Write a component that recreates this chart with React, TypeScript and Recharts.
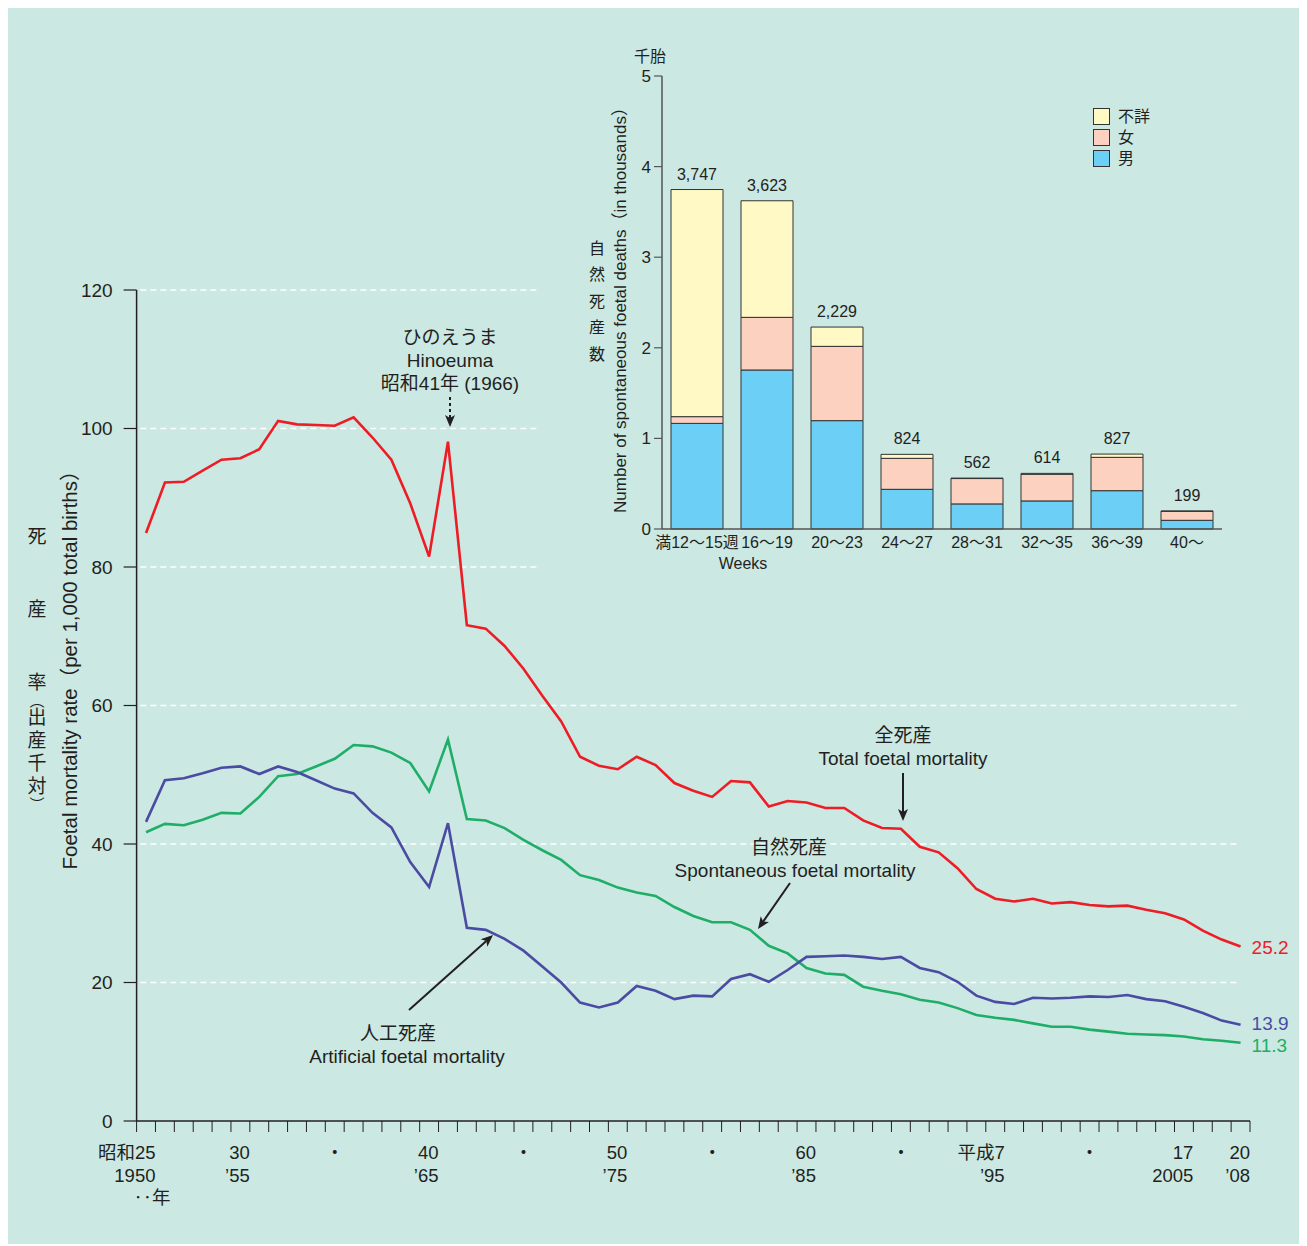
import React from "react";
import { LineChart, Line, XAxis, YAxis, ReferenceLine, BarChart, Bar, LabelList, Legend } from "recharts";

const FONT = "'Liberation Sans', Arial, 'Noto Sans CJK JP', sans-serif";
const INK = "#231f20";
const BG = "#cbe8e3";
const RED = "#ee1c25";
const BLUE = "#4b4ba3";
const GREEN = "#1fae67";

// ---- main line chart data (rate per 1,000 total births) ----
const YEARS = [
  1950, 1951, 1952, 1953, 1954, 1955, 1956, 1957, 1958, 1959,
  1960, 1961, 1962, 1963, 1964, 1965, 1966, 1967, 1968, 1969,
  1970, 1971, 1972, 1973, 1974, 1975, 1976, 1977, 1978, 1979,
  1980, 1981, 1982, 1983, 1984, 1985, 1986, 1987, 1988, 1989,
  1990, 1991, 1992, 1993, 1994, 1995, 1996, 1997, 1998, 1999,
  2000, 2001, 2002, 2003, 2004, 2005, 2006, 2007, 2008,
];
const TOTAL = [
  84.9, 92.2, 92.3, 93.9, 95.5, 95.7, 97.0, 101.1, 100.6, 100.5,
  100.4, 101.6, 98.7, 95.5, 89.2, 81.5, 98.1, 71.6, 71.1, 68.6,
  65.3, 61.4, 57.7, 52.6, 51.3, 50.8, 52.6, 51.4, 48.8, 47.7,
  46.8, 49.1, 48.9, 45.4, 46.2, 46.0, 45.2, 45.2, 43.4, 42.3,
  42.2, 39.6, 38.8, 36.5, 33.5, 32.1, 31.7, 32.1, 31.4, 31.6,
  31.2, 31.0, 31.1, 30.5, 30.0, 29.1, 27.5, 26.2, 25.2,
];
const SPONT = [
  41.7, 42.9, 42.7, 43.5, 44.5, 44.4, 46.8, 49.8, 50.1, 51.2,
  52.3, 54.3, 54.1, 53.2, 51.7, 47.6, 55.1, 43.6, 43.4, 42.3,
  40.6, 39.1, 37.7, 35.5, 34.8, 33.7, 33.0, 32.5, 30.9, 29.6,
  28.7, 28.7, 27.6, 25.3, 24.2, 22.1, 21.3, 21.1, 19.4, 18.8,
  18.3, 17.5, 17.1, 16.3, 15.3, 14.9, 14.6, 14.1, 13.6, 13.6,
  13.2, 12.9, 12.6, 12.5, 12.4, 12.2, 11.8, 11.6, 11.3,
];
const ARTIF = [
  43.2, 49.2, 49.5, 50.2, 51.0, 51.2, 50.1, 51.2, 50.4, 49.2,
  48.0, 47.3, 44.5, 42.4, 37.4, 33.8, 43.0, 27.9, 27.6, 26.3,
  24.6, 22.3, 20.0, 17.1, 16.4, 17.1, 19.5, 18.8, 17.6, 18.1,
  18.0, 20.5, 21.2, 20.1, 21.8, 23.7, 23.8, 23.9, 23.7, 23.4,
  23.7, 22.1, 21.5, 20.1, 18.1, 17.2, 16.9, 17.8, 17.7, 17.8,
  18.0, 17.9, 18.2, 17.6, 17.3, 16.5, 15.6, 14.5, 13.9,
];

const X_LABEL_YEARS = [1950, 1955, 1960, 1965, 1970, 1975, 1980, 1985, 1990, 1995, 2000, 2005, 2008];
const X_LABEL_ERA = ["昭和25", "30", "・", "40", "・", "50", "・", "60", "・", "平成7", "・", "17", "20"];
const X_LABEL_AD = ["1950", "’55", "", "’65", "", "’75", "", "’85", "", "’95", "", "2005", "’08"];
const Y_TICKS = [0, 20, 40, 60, 80, 100, 120];
const GRID_SHORT = [80, 100, 120];
const GRID_LONG = [20, 40, 60];

// ---- inset bar chart data (spontaneous foetal deaths by gestation week) ----
const WEEK_CATS = ["満12〜15週", "16〜19", "20〜23", "24〜27", "28〜31", "32〜35", "36〜39", "40〜"];
const MALE = [1166, 1755, 1196, 438, 277, 310, 423, 96];
const FEMALE = [74, 581, 820, 342, 280, 294, 368, 99];
const UNKNOWN = [2507, 1287, 213, 44, 5, 10, 36, 4];
const TOTALS = [3747, 3623, 2229, 824, 562, 614, 827, 199];
const BAR_TICKS = [0, 1000, 2000, 3000, 4000, 5000];

const SERIES_BAR = [
  { key: "unknown", name: "不詳", color: "#fff9c6" },
  { key: "female", name: "女", color: "#fcd1bf" },
  { key: "male", name: "男", color: "#6ccff5" },
];

// ---- layout ----
const W = 1291;
const H = 1240;
const PLOT_L = 128.6;
const PLOT_R = 1242;
const PLOT_T = 286;
const PLOT_B = 1117;
const XAXIS_H = 90;
const YAXIS_W = 70;
const BAND = (PLOT_R - PLOT_L) / YEARS.length;

const mainData = YEARS.map((year, i) => ({ year, total: TOTAL[i], spont: SPONT[i], artif: ARTIF[i] }));
const BOUNDS = [...YEARS.map((y) => y - 0.5), YEARS[YEARS.length - 1] + 0.5];

const barData = WEEK_CATS.map((cat, i) => ({
  cat,
  male: MALE[i],
  female: FEMALE[i],
  unknown: UNKNOWN[i],
  total: TOTALS[i],
}));

const XTick = (props: any) => {
  const { x, y, payload } = props;
  const year = payload.value - 0.5;
  const i = X_LABEL_YEARS.indexOf(year);
  if (i < 0) return <g />;
  const era = X_LABEL_ERA[i];
  const ad = X_LABEL_AD[i];
  const st = { fontSize: 18.5, fill: INK, fontFamily: FONT };
  if (era === "・") {
    return (
      <text x={x - BAND / 2} y={y + 23} textAnchor="middle" {...st}>
        ・
      </text>
    );
  }
  return (
    <g>
      <text x={x} y={y + 22.5} textAnchor="end" {...st}>{era}</text>
      <text x={x} y={y + 45.5} textAnchor="end" {...st}>{ad}</text>
      {i === 0 && (
        <text x={x - 22} y={y + 67.5} textAnchor="start" {...st}>‥年</text>
      )}
    </g>
  );
};

const endLabel = (color: string, shift: number) => (props: any) => {
  const { x, y, index, value } = props;
  if (index !== YEARS.length - 1) return <g />;
  return (
    <text x={x + 11} y={y + shift} dy={6.5} fill={color} fontSize={19} fontFamily={FONT}>
      {Number(value).toFixed(1)}
    </text>
  );
};

const Arrow = ({ x1, y1, x2, y2, dashed }: { x1: number; y1: number; x2: number; y2: number; dashed?: boolean }) => {
  const dx = x2 - x1;
  const dy = y2 - y1;
  const len = Math.hypot(dx, dy);
  const ux = dx / len;
  const uy = dy / len;
  const hl = 12;
  const hw = 5;
  const bx = x2 - ux * hl;
  const by = y2 - uy * hl;
  const pts = `${x2},${y2} ${bx - uy * hw},${by + ux * hw} ${bx + ux * 3},${by + uy * 3} ${bx + uy * hw},${by - ux * hw}`;
  return (
    <g>
      <line x1={x1} y1={y1} x2={bx + ux * 3} y2={by + uy * 3} stroke={INK} strokeWidth={2} strokeDasharray={dashed ? "3 3" : undefined} />
      <polygon points={pts} fill={INK} />
    </g>
  );
};

const T = ({ x, y, children, size = 19, anchor = "middle", color = INK, rotate }: any) => (
  <text
    x={x}
    y={y}
    fontSize={size}
    fill={color}
    fontFamily={FONT}
    textAnchor={anchor}
    dominantBaseline="central"
    transform={rotate ? `rotate(${rotate} ${x} ${y})` : undefined}
  >
    {children}
  </text>
);

const LegendContent = () => (
  <div style={{ fontFamily: FONT, fontSize: 16, color: INK, lineHeight: "21px" }}>
    {SERIES_BAR.map((s) => (
      <div key={s.key} style={{ display: "flex", alignItems: "center", height: 21 }}>
        <span
          style={{
            display: "inline-block",
            width: 15,
            height: 15,
            background: s.color,
            border: "1px solid #333",
            marginRight: 8,
          }}
        />
        <span>{s.name}</span>
      </div>
    ))}
  </div>
);

const LEFT_CHARS = [
  { c: "死", y: 532, s: 19 },
  { c: "産", y: 605, s: 19 },
  { c: "率", y: 678, s: 19 },
  { c: "︵", y: 696, s: 15 },
  { c: "出", y: 713, s: 19 },
  { c: "産", y: 736, s: 19 },
  { c: "千", y: 759, s: 19 },
  { c: "対", y: 782, s: 19 },
  { c: "︶", y: 800, s: 15 },
];
const BAR_LEFT_CHARS = ["自", "然", "死", "産", "数"];

export default function App() {
  return (
    <div style={{ position: "relative", width: W, height: H, background: BG, marginTop: -4, fontFamily: FONT }}>
      <div style={{ position: "absolute", left: 0, top: 0 }}>
        <LineChart
          width={W}
          height={H}
          data={mainData}
          margin={{ top: PLOT_T, right: W - PLOT_R, bottom: H - PLOT_B - XAXIS_H, left: PLOT_L - YAXIS_W }}
        >
          <XAxis
            type="number"
            dataKey="year"
            domain={[BOUNDS[0], BOUNDS[BOUNDS.length - 1]]}
            ticks={BOUNDS}
            interval={0}
            allowDataOverflow
            height={XAXIS_H}
            tickSize={11}
            tickMargin={4}
            axisLine={{ stroke: INK, strokeWidth: 1.5 }}
            tickLine={{ stroke: INK, strokeWidth: 1 }}
            tick={<XTick />}
          />
          <YAxis
            type="number"
            domain={[0, 120]}
            ticks={Y_TICKS}
            interval={0}
            width={YAXIS_W}
            tickSize={13}
            tickMargin={11}
            axisLine={{ stroke: INK, strokeWidth: 1.5 }}
            tickLine={{ stroke: INK, strokeWidth: 1.2 }}
            tick={{ fontSize: 19, fill: INK, fontFamily: FONT }}
          />
          {GRID_SHORT.map((v) => (
            <ReferenceLine
              key={"gs" + v}
              segment={[{ x: 1949.7, y: v }, { x: 1970.9, y: v }]}
              stroke="#ffffff"
              strokeWidth={1.5}
              strokeDasharray="6 4"
            />
          ))}
          {GRID_LONG.map((v) => (
            <ReferenceLine
              key={"gl" + v}
              segment={[{ x: 1949.7, y: v }, { x: 2007.8, y: v }]}
              stroke="#ffffff"
              strokeWidth={1.5}
              strokeDasharray="6 4"
            />
          ))}
          <Line
            type="linear"
            dataKey="total"
            stroke={RED}
            strokeWidth={2.6}
            dot={false}
            isAnimationActive={false}
            label={endLabel(RED, 1)}
          />
          <Line
            type="linear"
            dataKey="spont"
            stroke={GREEN}
            strokeWidth={2.6}
            dot={false}
            isAnimationActive={false}
            label={endLabel(GREEN, 3)}
          />
          <Line
            type="linear"
            dataKey="artif"
            stroke={BLUE}
            strokeWidth={2.6}
            dot={false}
            isAnimationActive={false}
            label={endLabel(BLUE, -1)}
          />
        </LineChart>
      </div>

      <div style={{ position: "absolute", left: 540, top: 40 }}>
        <BarChart
          width={700}
          height={560}
          data={barData}
          margin={{ top: 32, right: 26, bottom: 25, left: 64 }}
          barSize={52}
        >
          <XAxis
            dataKey="cat"
            interval={0}
            height={50}
            tickLine={false}
            tickSize={0}
            tickMargin={8}
            axisLine={{ stroke: "#555", strokeWidth: 1.5 }}
            tick={{ fontSize: 16, fill: INK, fontFamily: FONT }}
          />
          <YAxis
            type="number"
            domain={[0, 5000]}
            ticks={BAR_TICKS}
            interval={0}
            width={50}
            tickSize={8}
            tickMargin={3}
            tickFormatter={(v: number) => String(v / 1000)}
            axisLine={{ stroke: "#555", strokeWidth: 1.5 }}
            tickLine={{ stroke: "#555", strokeWidth: 1.2 }}
            tick={{ fontSize: 17, fill: INK, fontFamily: FONT }}
          />
          <Bar dataKey="male" stackId="s" fill="#6ccff5" stroke="#333" strokeWidth={1} isAnimationActive={false} />
          <Bar dataKey="female" stackId="s" fill="#fcd1bf" stroke="#333" strokeWidth={1} isAnimationActive={false} />
          <Bar dataKey="unknown" stackId="s" fill="#fff9c6" stroke="#333" strokeWidth={1} isAnimationActive={false}>
            <LabelList
              dataKey="total"
              position="top"
              offset={10}
              formatter={(v: any) => Number(v).toLocaleString("en-US")}
              style={{ fontSize: 16, fill: INK, fontFamily: FONT }}
            />
          </Bar>
          <Legend
            layout="horizontal"
            verticalAlign="middle"
            align="center"
            content={<LegendContent />}
            wrapperStyle={{ left: 545, top: 62, width: 120 }}
          />
        </BarChart>
      </div>

      <svg
        width={W}
        height={H}
        style={{ position: "absolute", left: 0, top: 0, pointerEvents: "none" }}
      >
        {/* main y-axis titles */}
        {LEFT_CHARS.map((d, i) => (
          <T key={i} x={29} y={d.y} size={d.s}>{d.c}</T>
        ))}
        <T x={61} y={661} size={20.5} rotate={-90}>Foetal mortality rate（per 1,000 total births）</T>

        {/* Hinoeuma */}
        <T x={442} y={333} size={19}>ひのえうま</T>
        <T x={442} y={356} size={19}>Hinoeuma</T>
        <T x={442} y={379} size={19}>昭和41年 (1966)</T>
        <Arrow x1={442} y1={393} x2={442} y2={423} dashed />

        {/* Total */}
        <T x={895} y={731} size={19}>全死産</T>
        <T x={895} y={754} size={19}>Total foetal mortality</T>
        <Arrow x1={895} y1={769} x2={895} y2={817} />

        {/* Spontaneous */}
        <T x={781} y={843} size={19}>自然死産</T>
        <T x={787} y={866} size={19}>Spontaneous foetal mortality</T>
        <Arrow x1={782} y1={879} x2={750} y2={925} />

        {/* Artificial */}
        <T x={390} y={1029} size={19}>人工死産</T>
        <T x={399} y={1052} size={19}>Artificial foetal mortality</T>
        <Arrow x1={401} y1={1006} x2={485} y2={931} />

        {/* inset labels */}
        <T x={642} y={52} size={16}>千胎</T>
        {BAR_LEFT_CHARS.map((c, i) => (
          <T key={c + i} x={589} y={244 + i * 26.5} size={16}>{c}</T>
        ))}
        <T x={612} y={302} size={17} rotate={-90}>Number of spontaneous foetal deaths（in thousands）</T>
        <T x={735} y={559} size={16}>Weeks</T>
      </svg>
    </div>
  );
}
